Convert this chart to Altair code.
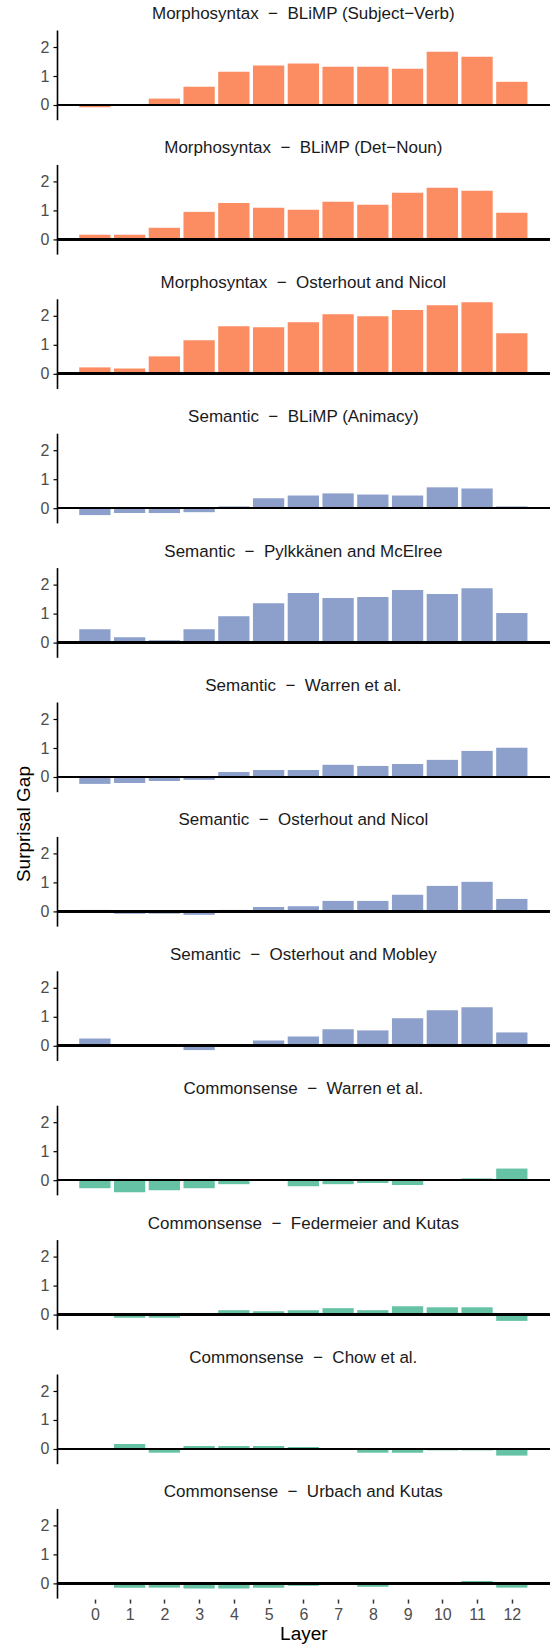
import altair as alt
import pandas as pd

layers = list(range(13))

SEP = "\u00a0\u00a0\u2212\u00a0\u00a0"
panel_titles = [
    "Morphosyntax" + SEP + "BLiMP (Subject\u2212Verb)",
    "Morphosyntax" + SEP + "BLiMP (Det\u2212Noun)",
    "Morphosyntax" + SEP + "Osterhout and Nicol",
    "Semantic" + SEP + "BLiMP (Animacy)",
    "Semantic" + SEP + "Pylkkänen and McElree",
    "Semantic" + SEP + "Warren et al.",
    "Semantic" + SEP + "Osterhout and Nicol",
    "Semantic" + SEP + "Osterhout and Mobley",
    "Commonsense" + SEP + "Warren et al.",
    "Commonsense" + SEP + "Federmeier and Kutas",
    "Commonsense" + SEP + "Chow et al.",
    "Commonsense" + SEP + "Urbach and Kutas",
]
panel_types = ["Morphosyntax"] * 3 + ["Semantic"] * 5 + ["Commonsense"] * 4

morph_subj_verb = [-0.08, 0.02, 0.22, 0.63, 1.15, 1.36, 1.43, 1.32, 1.32, 1.25, 1.84, 1.67, 0.80]
morph_det_noun = [0.16, 0.16, 0.40, 0.95, 1.26, 1.09, 1.02, 1.30, 1.20, 1.61, 1.78, 1.68, 0.92]
morph_osterhout = [0.22, 0.18, 0.60, 1.16, 1.64, 1.61, 1.78, 2.06, 1.99, 2.20, 2.37, 2.47, 1.40]
sem_animacy = [-0.24, -0.17, -0.17, -0.14, 0.06, 0.34, 0.44, 0.51, 0.47, 0.44, 0.72, 0.68, 0.06]
sem_pylkkanen = [0.46, 0.18, 0.08, 0.46, 0.91, 1.36, 1.71, 1.54, 1.57, 1.82, 1.68, 1.88, 1.02]
sem_warren = [-0.24, -0.21, -0.14, -0.10, 0.17, 0.24, 0.24, 0.42, 0.38, 0.45, 0.59, 0.90, 1.01]
sem_osterhout_nicol = [0.05, -0.08, -0.08, -0.12, 0.05, 0.15, 0.18, 0.36, 0.36, 0.57, 0.88, 1.02, 0.43]
sem_osterhout_mobley = [0.25, 0.03, 0.01, -0.15, 0.0, 0.18, 0.32, 0.57, 0.53, 0.95, 1.23, 1.33, 0.46]
cs_warren = [-0.28, -0.42, -0.35, -0.28, -0.14, 0.0, -0.21, -0.14, -0.10, -0.17, 0.0, 0.06, 0.40]
cs_federmeier = [0.03, -0.11, -0.11, 0.0, 0.15, 0.11, 0.15, 0.22, 0.15, 0.29, 0.25, 0.25, -0.22]
cs_chow = [0.0, 0.17, -0.13, 0.10, 0.10, 0.10, 0.07, 0.0, -0.13, -0.13, -0.05, -0.05, -0.23]
cs_urbach = [0.0, -0.15, -0.15, -0.18, -0.18, -0.15, -0.08, 0.0, -0.12, 0.0, 0.0, 0.08, -0.15]

series = [morph_subj_verb, morph_det_noun, morph_osterhout, sem_animacy, sem_pylkkanen,
          sem_warren, sem_osterhout_nicol, sem_osterhout_mobley, cs_warren, cs_federmeier,
          cs_chow, cs_urbach]

type_domain = ["Morphosyntax", "Semantic", "Commonsense"]
type_colors = ["#FC8D62", "#8DA0CB", "#66C2A5"]

FONT = "Liberation Sans"
PW = 492.7
PH = 89.7

charts = []
n = len(panel_titles)
for i, (title, ptype, vals) in enumerate(zip(panel_titles, panel_types, series)):
    df = pd.DataFrame({"layer": layers, "value": vals, "type": ptype})
    last = i == n - 1
    if last:
        xaxis = alt.Axis(values=layers, title="Layer", domain=False, grid=False,
                         tickColor="#333333", tickSize=4, tickWidth=1.5,
                         offset=1, labelFontSize=16, labelColor="#4D4D4D", labelFont=FONT,
                         labelPadding=3, titleFontSize=19, titleFont=FONT,
                         titleFontWeight="normal", titleColor="black", titlePadding=2,
                         format="d")
    else:
        xaxis = None
    base = alt.Chart(df).transform_calculate(
        x1="datum.layer - 0.45", x2="datum.layer + 0.45"
    )
    bars = base.mark_bar().encode(
        x=alt.X("x1:Q", scale=alt.Scale(domain=[-1.09, 13.09], nice=False, zero=False),
                axis=xaxis),
        x2="x2:Q",
        y=alt.Y("value:Q", scale=alt.Scale(domain=[-0.51, 2.59], nice=False),
                axis=alt.Axis(values=[0, 1, 2], title=None, grid=False, domainColor="black",
                              domainWidth=1.6, tickColor="black", tickSize=4, tickWidth=1.2,
                              labelFontSize=16, labelColor="#4D4D4D", labelFont=FONT,
                              labelPadding=4)),
        y2=alt.datum(0),
        color=alt.Color("type:N", scale=alt.Scale(domain=type_domain, range=type_colors),
                        legend=None),
    )
    zero = alt.Chart(df).mark_rule(color="black", strokeWidth=1.8).encode(y=alt.datum(0))
    ch = alt.layer(bars, zero).properties(
        width=PW, height=PH,
        title=alt.TitleParams(title, fontSize=17, font=FONT, fontWeight="normal",
                              color="#1A1A1A", anchor="middle", offset=7),
    )
    charts.append(ch)

chart = alt.vconcat(*charts, spacing=19.4).properties(
    title=alt.TitleParams("Surprisal Gap", orient="left", anchor="middle", fontSize=19,
                          font=FONT, fontWeight="normal", color="black", offset=6),
    padding={"left": 15, "top": 5, "right": 0, "bottom": 0},
).configure(font=FONT, view=alt.ViewConfig(stroke=None))

chart.save("out.html", embed_options={"renderer": "svg", "actions": False})
